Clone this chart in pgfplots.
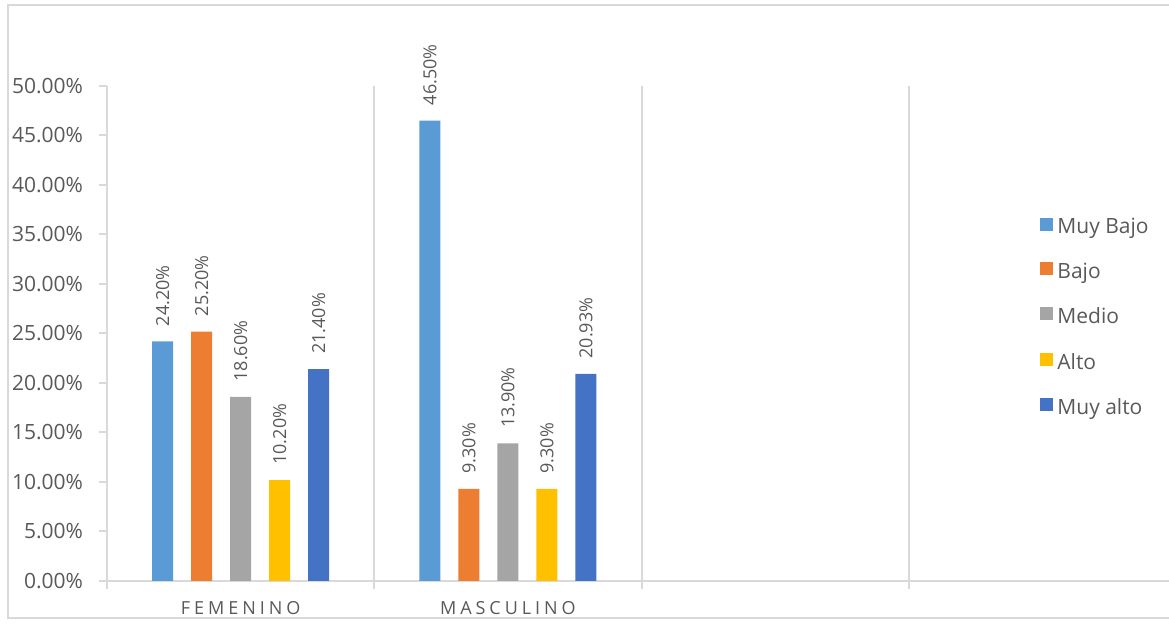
\documentclass[border=0pt]{standalone}
\usepackage{fontspec}
\setmainfont{Open Sans}
\usepackage{pgfplots}
\pgfplotsset{compat=1.18}
\definecolor{c1}{HTML}{5B9BD5}
\definecolor{c2}{HTML}{ED7D31}
\definecolor{c3}{HTML}{A5A5A5}
\definecolor{c4}{HTML}{FFC000}
\definecolor{c5}{HTML}{4472C4}
\definecolor{txt}{HTML}{595959}
\definecolor{grd}{HTML}{D9D9D9}
\pgfplotsset{sq/.style={legend image code/.code={\fill[##1] (0pt,-1.6pt) rectangle (6.5pt,4.9pt);}}}
\begin{document}
\begin{tikzpicture}
\useasboundingbox (0,0) rectangle (584.5pt,313pt);
\clip (0,0) rectangle (584.5pt,313pt);
\draw[grd, line width=1pt] (4pt,4pt) rectangle (600pt,310.5pt);
\begin{axis}[
  at={(53.5pt,22.5pt)}, anchor=south west,
  scale only axis, width=534.5pt, height=247.5pt,
  ybar=9pt, bar width=10.5pt,
  xmin=-0.5, xmax=3.5, ymin=0, ymax=50,
  axis lines*=left,
  axis line style={grd, line width=1pt},
  /pgf/number format/assume math mode=true,
  ytick={0,5,...,50},
  yticklabel={\pgfmathprintnumber[fixed,fixed zerofill,precision=2]{\tick}\%},
  y tick label style={font=\fontsize{10.5}{12}\selectfont, text=txt, xshift=-4.5pt},
  tick align=outside, major tick length=4pt,
  tick style={grd, line width=1pt},
  xtick={-0.5,0.5,1.5,2.5,3.5},
  x tick label as interval,
  xticklabels={FEMENINO,MASCULINO,{},{}},
  x tick label style={font=\fontsize{9}{10}\selectfont\addfontfeature{LetterSpace=22}, text=txt, yshift=-2.7pt},
  xmajorgrids,
  grid style={grd, line width=1pt},
  nodes near coords={\pgfmathprintnumber[fixed,fixed zerofill,precision=2]{\pgfplotspointmeta}\%},
  nodes near coords style={rotate=90, anchor=west, font=\fontsize{9}{10}\selectfont, text=txt, inner xsep=7.5pt, inner ysep=0pt},
  legend style={draw=none, fill=none, at={(0.8728,0.742)}, anchor=north west,
    font=\fontsize{10.5}{12}\selectfont, text=txt, row sep=9.2pt, inner sep=0pt,
    cells={anchor=west}},
]
\addplot[fill=c1, draw=none, sq] coordinates {(0,24.2) (1,46.5)};
\addplot[fill=c2, draw=none, sq] coordinates {(0,25.2) (1,9.3)};
\addplot[fill=c3, draw=none, sq] coordinates {(0,18.6) (1,13.9)};
\addplot[fill=c4, draw=none, sq] coordinates {(0,10.2) (1,9.3)};
\addplot[fill=c5, draw=none, sq] coordinates {(0,21.4) (1,20.93)};
\legend{Muy Bajo, Bajo, Medio, Alto, Muy alto}
\end{axis}
\end{tikzpicture}
\end{document}
